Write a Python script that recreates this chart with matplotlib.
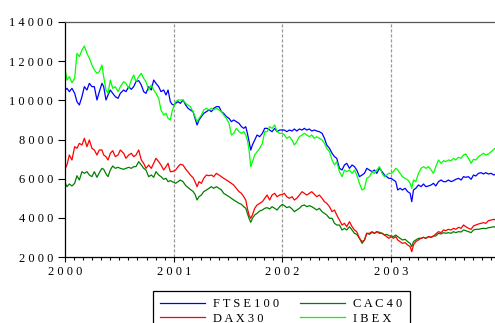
import matplotlib
matplotlib.use("Agg")
import matplotlib.pyplot as plt
from matplotlib.ticker import MultipleLocator, FuncFormatter

# decimal years (roughly weekly)
dates = [
    2000.003, 2000.018, 2000.040, 2000.064, 2000.089, 2000.110, 2000.132, 2000.156, 2000.178, 2000.202,
    2000.224, 2000.248, 2000.270, 2000.294, 2000.316, 2000.340, 2000.356, 2000.377, 2000.396, 2000.417,
    2000.439, 2000.463, 2000.488, 2000.509, 2000.540, 2000.561, 2000.586, 2000.610, 2000.632, 2000.653,
    2000.678, 2000.702, 2000.724, 2000.745, 2000.770, 2000.794, 2000.816, 2000.837, 2000.862, 2000.883,
    2000.908, 2000.929, 2000.948, 2000.969, 2000.985,
    2001.000, 2001.018, 2001.040, 2001.061, 2001.086, 2001.110, 2001.132, 2001.153, 2001.178, 2001.196,
    2001.215, 2001.233, 2001.255, 2001.276, 2001.301, 2001.325, 2001.347, 2001.368, 2001.393, 2001.417,
    2001.439, 2001.460, 2001.485, 2001.509, 2001.531, 2001.552, 2001.577, 2001.601, 2001.623, 2001.644,
    2001.663, 2001.678, 2001.693, 2001.709, 2001.724, 2001.745, 2001.767, 2001.791, 2001.816, 2001.837,
    2001.859, 2001.883, 2001.905, 2001.929, 2001.951, 2001.975,
    2002.000, 2002.018, 2002.040, 2002.064, 2002.089, 2002.110, 2002.132, 2002.156, 2002.181, 2002.202,
    2002.224, 2002.248, 2002.270, 2002.294, 2002.316, 2002.340, 2002.365, 2002.387, 2002.408, 2002.433,
    2002.457, 2002.479, 2002.500, 2002.525, 2002.549, 2002.571, 2002.592, 2002.617, 2002.641, 2002.663,
    2002.684, 2002.709, 2002.733, 2002.755, 2002.776, 2002.801, 2002.825, 2002.847, 2002.868, 2002.893,
    2002.917, 2002.939, 2002.960, 2002.979,
    2003.000, 2003.021, 2003.043, 2003.061, 2003.083, 2003.104, 2003.129, 2003.153, 2003.175, 2003.190,
    2003.206, 2003.227, 2003.252, 2003.276, 2003.298, 2003.319, 2003.344, 2003.368, 2003.390, 2003.411,
    2003.436, 2003.460, 2003.482, 2003.503, 2003.528, 2003.552, 2003.574, 2003.595, 2003.620, 2003.644,
    2003.666, 2003.687, 2003.712, 2003.736, 2003.758, 2003.779, 2003.804, 2003.828, 2003.850, 2003.871,
    2003.896, 2003.920, 2003.945, 2003.957,
]

ftse100 = [
    10528, 10613, 10443, 10613, 10358, 9932, 9762, 10188, 10698, 10528, 10868, 10698, 10698, 10017, 10443,
    10868, 10698, 10017, 10273, 10528, 10358, 10188, 10103, 10358, 10528, 10443, 10698, 10562, 10698, 10954,
    11005, 10783, 10443, 10358, 10698, 10528, 11038, 10868, 10698, 10443, 10528, 10273, 10528, 9932, 9800,
    9762, 9847, 9932, 9847, 10017, 9762, 9592, 9507, 9421, 9081, 8741, 8996, 9166, 9336, 9421, 9507,
    9421, 9592, 9677, 9677, 9421, 9336, 9166, 9081, 8911, 8996, 8911, 8826, 8656, 8570, 8656, 8315,
    7890, 7464, 7720, 7975, 8230, 8145, 8315, 8570, 8570, 8485, 8400, 8570, 8400, 8485,
    8485, 8485, 8400, 8485, 8434, 8536, 8434, 8536, 8485, 8570, 8485, 8536, 8434, 8485, 8434, 8400,
    8315, 8060, 7719, 7549, 7294, 7124, 7038, 6528, 6443, 6698, 6783, 6528, 6698, 6613, 6443, 6102,
    6187, 6272, 6528, 6443, 6357, 6443, 6272, 6528, 6357, 6187, 6102, 6017,
    6018, 5933, 5848, 5422, 5508, 5422, 5508, 5337, 5252, 4827, 5422, 5508, 5678, 5593, 5729, 5593,
    5627, 5678, 5763, 5627, 5848, 5933, 5848, 5848, 5933, 5848, 5899, 5967, 6018, 5933, 6103, 6069,
    6103, 5967, 6188, 6137, 6273, 6307, 6239, 6307, 6239, 6273, 6188, 6222,
]

cac40 = [
    5763, 5592, 5729, 5627, 5763, 6150, 5933, 6358, 6273, 6358, 6188, 6103, 6358, 6069, 6307,
    6528, 6480, 6250, 6103, 6443, 6648, 6528, 6580, 6528, 6477, 6528, 6580, 6528, 6614, 6614,
    6869, 6699, 6528, 6443, 6103, 6188, 6069, 6358, 6188, 6103, 5967, 6018, 5848, 5899, 5850,
    5813, 5762, 5847, 5932, 5847, 5650, 5550, 5450, 5350, 5200, 4911, 5081, 5166, 5337, 5422, 5507,
    5592, 5507, 5592, 5507, 5422, 5251, 5166, 5081, 4996, 4911, 4826, 4741, 4690, 4571, 4486, 4230,
    3975, 3771, 3975, 4145, 4230, 4350, 4400, 4486, 4520, 4452, 4571, 4486, 4400, 4571,
    4690, 4622, 4520, 4571, 4452, 4315, 4400, 4486, 4622, 4656, 4571, 4622, 4571, 4486, 4400, 4486,
    4315, 4230, 4145, 3975, 3975, 3720, 3634, 3634, 3379, 3464, 3379, 3549, 3379, 3209, 3158, 2954,
    2698, 2868, 3209, 3158, 3260, 3209, 3294, 3260, 3209, 3124, 3158, 3090,
    3074, 3040, 3125, 3040, 2955, 2870, 2904, 2784, 2699, 2529, 2784, 2870, 2955, 2955, 3006, 2955,
    3040, 3006, 3074, 3074, 3210, 3176, 3244, 3210, 3244, 3210, 3295, 3244, 3295, 3278, 3380, 3346,
    3295, 3244, 3380, 3414, 3414, 3448, 3465, 3448, 3499, 3516, 3550, 3516,
]

dax30 = [
    6528, 6699, 7209, 6954, 7635, 7550, 7805, 7720, 8060, 7635, 7975, 7550, 7465, 7209, 7465,
    7465, 7209, 7124, 6954, 7294, 7430, 7124, 7209, 7465, 7294, 7039, 7209, 7294, 7124, 7209,
    7465, 6954, 6784, 6528, 6699, 6528, 6784, 7039, 6869, 6699, 6443, 6614, 6784, 6358, 6358,
    6392, 6443, 6613, 6732, 6698, 6490, 6350, 6187, 6050, 5850, 5592, 5847, 5762, 6017, 6187, 6153,
    6187, 6102, 6272, 6187, 6102, 6017, 5932, 5847, 5762, 5677, 5507, 5337, 5251, 5081, 4911, 4486,
    4145, 3975, 4145, 4486, 4656, 4741, 4826, 4996, 5166, 4911, 5166, 5251, 5081, 5166,
    5200, 5251, 5081, 4996, 5081, 4911, 4996, 5166, 5336, 5251, 5166, 5251, 5336, 5200, 5081, 5166,
    4996, 4826, 4741, 4571, 4315, 4400, 4145, 3890, 3634, 3720, 3549, 3805, 3549, 3379, 3294, 2954,
    2783, 2868, 3209, 3209, 3294, 3209, 3294, 3209, 3209, 3124, 3039, 2954,
    3040, 2955, 3040, 2870, 2784, 2699, 2733, 2614, 2529, 2274, 2614, 2784, 2870, 2955, 3006, 2955,
    3040, 3006, 3074, 3176, 3295, 3244, 3380, 3346, 3414, 3380, 3465, 3414, 3516, 3465, 3635, 3550,
    3465, 3414, 3584, 3635, 3686, 3720, 3754, 3720, 3856, 3890, 3925, 3890,
]

ibex = [
    11549, 11038, 11209, 10903, 11124, 12400, 12230, 12570, 12775, 12400, 12145, 11805, 11549, 11379, 11464,
    11805, 11209, 10528, 10358, 11038, 10613, 10698, 10443, 10698, 10954, 10868, 10613, 11038, 11294, 10954,
    11209, 11379, 11124, 10954, 10528, 10783, 10528, 10358, 10103, 9507, 9252, 9337, 9081, 8996, 9422,
    9677, 9932, 10017, 10017, 10017, 9847, 9762, 9677, 9421, 9166, 8911, 9081, 9251, 9507, 9592, 9507,
    9592, 9507, 9592, 9507, 9421, 9251, 9081, 8826, 8230, 8315, 8570, 8400, 8315, 8400, 8230, 7975,
    7464, 6613, 6868, 7209, 7379, 7549, 7805, 8400, 8400, 8656, 8570, 8741, 8400, 8315,
    8315, 8230, 8060, 8145, 7975, 7719, 7889, 8145, 8230, 8315, 8230, 8145, 8230, 8060, 8145, 8060,
    7975, 7804, 7549, 7379, 6953, 6698, 6868, 6357, 6102, 6443, 6357, 6443, 6272, 6443, 6187, 5762,
    5421, 5507, 6017, 6102, 6357, 6272, 6443, 6613, 6272, 6102, 6187, 6272,
    6273, 6358, 6529, 6444, 6273, 6103, 6018, 5933, 5763, 5508, 5933, 5848, 6273, 6529, 6614, 6529,
    6614, 6444, 6273, 6614, 6954, 6784, 6920, 6869, 6954, 6920, 7039, 6954, 7090, 7039, 7209, 7261,
    7039, 6784, 6988, 6954, 7124, 7209, 7295, 7209, 7261, 7380, 7499, 7550,
]

year_ticks = [2000, 2001, 2002, 2003]
y_ticks = [2000, 4000, 6000, 8000, 10000, 12000, 14000]
legend_names = ["FTSE100", "DAX30", "CAC40", "IBEX"]


def spaced(v, pos=None):
    # letter-spaced labels like the original
    return " ".join(str(int(round(v))))


plt.rcParams["font.family"] = ["Liberation Serif", "DejaVu Serif"]

fig = plt.figure(figsize=(4.95, 3.23), dpi=100)
fig.patch.set_facecolor("white")
ax = fig.add_axes([0.1313, 0.2043, 0.8784, 0.7276])

l_ftse, = ax.plot(dates, ftse100, color="#0000ff", lw=0.9)
l_cac, = ax.plot(dates, cac40, color="#008000", lw=0.9)
l_dax, = ax.plot(dates, dax30, color="#ff0000", lw=0.9)
l_ibex, = ax.plot(dates, ibex, color="#00ff00", lw=0.9)

for yr in year_ticks[1:]:
    ax.axvline(yr, color="#999999", lw=0.9, ls=(0, (2.5, 1.5)), zorder=0)

ax.set_xlim(2000, 2004)
ax.set_ylim(2000, 14000)
ax.set_xticks(year_ticks)
ax.xaxis.set_minor_locator(MultipleLocator(1 / 12))
ax.set_yticks(y_ticks)
ax.xaxis.set_major_formatter(FuncFormatter(spaced))
ax.yaxis.set_major_formatter(FuncFormatter(spaced))

ax.tick_params(axis="x", which="major", direction="out", length=3.5, width=0.8, pad=3, labelsize=9)
ax.tick_params(axis="x", which="minor", direction="out", length=2.2, width=0.8)
ax.tick_params(axis="y", which="major", direction="out", length=5, width=0.8, pad=3.5, labelsize=9)

for side in ("left", "bottom"):
    ax.spines[side].set_color("black")
    ax.spines[side].set_linewidth(0.9)
ax.spines["top"].set_color("#555555")
ax.spines["top"].set_linewidth(0.9)
ax.spines["right"].set_visible(False)

# legend sits partly below the picture edge, as in the original
leg = fig.legend(handles=[l_ftse, l_dax, l_cac, l_ibex],
                 labels=[" ".join(n) for n in legend_names],
                 loc="upper left", bbox_to_anchor=(0.309, 0.099), borderaxespad=0,
                 ncol=2, fontsize=9, frameon=True, fancybox=False, framealpha=1,
                 edgecolor="black", handlelength=3.6, handletextpad=0.65,
                 columnspacing=1.7, labelspacing=0.22, borderpad=0.55)
leg.get_frame().set_linewidth(0.9)

fig.savefig("out.png", dpi=100, facecolor=fig.get_facecolor())
